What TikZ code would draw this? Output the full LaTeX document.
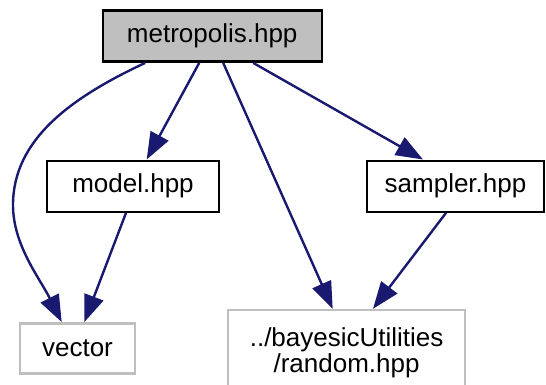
\documentclass[tikz,border=0pt]{standalone}
\usepackage{fontspec}
\setmainfont{Liberation Sans}
\usetikzlibrary{arrows.meta}
\definecolor{edgeblue}{HTML}{191970}
\definecolor{boxgray}{HTML}{BFBFBF}
\tikzset{
  box/.style={draw=black, line width=2.4pt, fill=white, inner sep=0pt, align=center,
    font=\fontsize{26}{26}\selectfont},
  graybox/.style={box, draw=boxgray},
  dep/.style={draw=edgeblue, line width=2.4pt, -{Triangle[length=27pt,width=20pt]}},
}
\begin{document}
\begin{tikzpicture}[x=1pt,y=-1pt]
\useasboundingbox (0,0) rectangle (546,385);
\node[box, fill=boxgray, minimum width=219pt, minimum height=51pt] (metro) at (212.2,36.2) {metropolis.hpp};
\node[box, minimum width=172pt, minimum height=51pt] (model) at (133,186.2) {model.hpp};
\node[box, minimum width=177pt, minimum height=51pt] (sampler) at (455.5,186.2) {sampler.hpp};
\node[graybox, minimum width=115pt, minimum height=50pt] (vector) at (77.5,348.3) {vector};
\node[graybox, minimum width=237pt, minimum height=84.6pt] (random) at (346.6,352.3) {../bayesicUtilities\\/random.hpp};
\draw[dep] ([xshift=-67pt]metro.south) .. controls +(-75,35) and +(0,-65) .. (13,205)
  .. controls +(0,40) and +(-22,-44) .. ([xshift=-15.8pt]vector.north);
\draw[dep] ([xshift=-13pt]metro.south) -- ([xshift=13.7pt]model.north);
\draw[dep] ([xshift=11pt]metro.south) -- ([xshift=-13.9pt]random.north);
\draw[dep] ([xshift=41pt]metro.south) -- ([xshift=-32.5pt]sampler.north);
\draw[dep] ([xshift=-7pt]model.south) -- ([xshift=6.8pt]vector.north);
\draw[dep] ([xshift=-9.5pt]sampler.south) -- ([xshift=26.4pt]random.north);
\end{tikzpicture}
\end{document}
